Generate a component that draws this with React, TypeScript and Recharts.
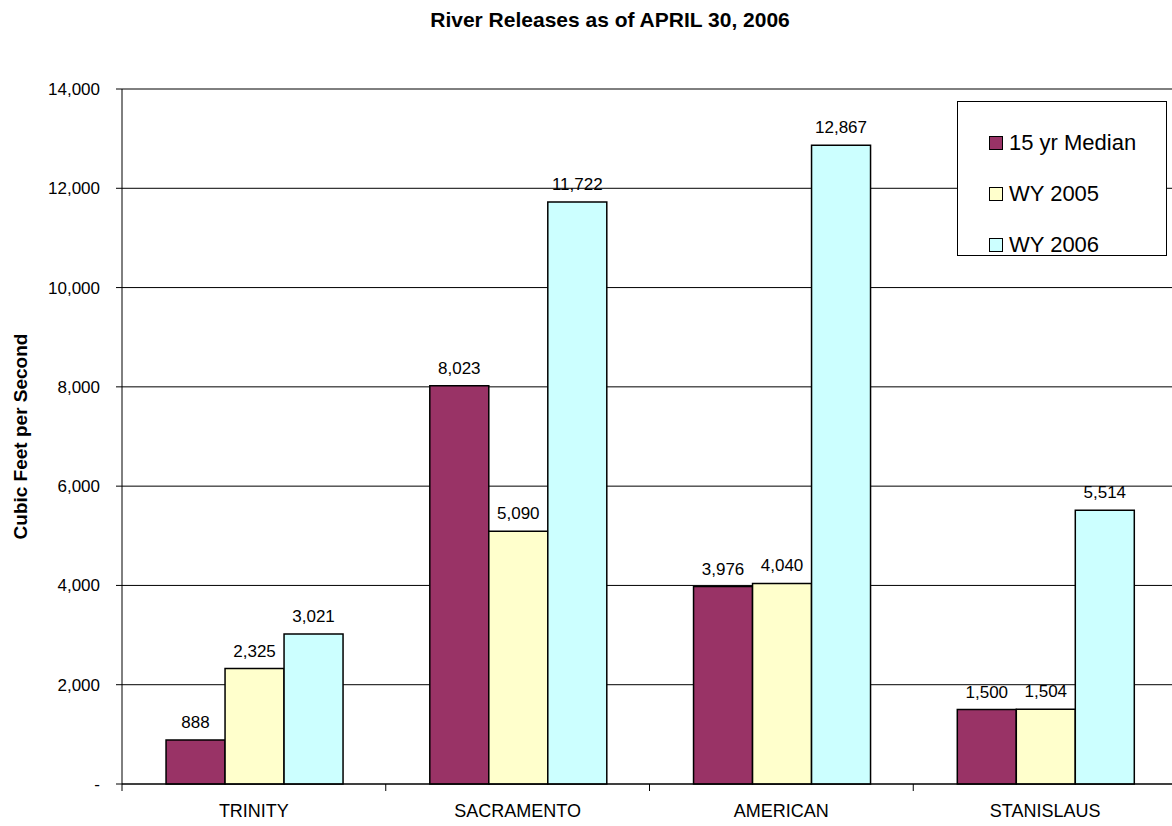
import { BarChart, Bar, XAxis, YAxis, CartesianGrid, Legend, LabelList } from 'recharts'

const rivers = ['TRINITY', 'SACRAMENTO', 'AMERICAN', 'STANISLAUS']
const median15yr = [888, 8023, 3976, 1500]
const wy2005 = [2325, 5090, 4040, 1504]
const wy2006 = [3021, 11722, 12867, 5514]
const yTicks = [0, 2000, 4000, 6000, 8000, 10000, 12000, 14000]

const SERIES = [
  { key: 'median', name: '15 yr Median', color: '#993366' },
  { key: 'wy2005', name: 'WY 2005', color: '#FFFFCC' },
  { key: 'wy2006', name: 'WY 2006', color: '#CCFFFF' },
]

const data = rivers.map((river, i) => ({
  river,
  median: median15yr[i],
  wy2005: wy2005[i],
  wy2006: wy2006[i],
}))

const FONT = '"Liberation Sans", Arial, Helvetica, sans-serif'
const CHART_W = 1190
const CHART_H = 826
const MARGIN = { top: 89, right: 13, left: 0, bottom: 0 }
const Y_AXIS_W = 122
const X_AXIS_H = 42
const PLOT_BOTTOM = CHART_H - MARGIN.bottom - X_AXIS_H
const BAND = (CHART_W - MARGIN.right - MARGIN.left - Y_AXIS_W) / rivers.length

const fmt = (v: number) => (v === 0 ? '-' : v.toLocaleString('en-US'))

function RiverTick(props: any) {
  const { x, payload, index } = props
  return (
    <g>
      <line x1={x - BAND / 2} x2={x - BAND / 2} y1={PLOT_BOTTOM} y2={PLOT_BOTTOM + 7} stroke="#000" />
      {index === rivers.length - 1 && (
        <line x1={x + BAND / 2} x2={x + BAND / 2} y1={PLOT_BOTTOM} y2={PLOT_BOTTOM + 7} stroke="#000" />
      )}
      <text x={x} y={PLOT_BOTTOM + 33} textAnchor="middle" fontSize={18} fontFamily={FONT} fill="#000">
        {payload.value}
      </text>
    </g>
  )
}

function LegendBox() {
  return (
    <div
      style={{
        boxSizing: 'border-box',
        width: 210,
        height: 155,
        border: '1px solid #000',
        background: '#fff',
        paddingTop: 15,
        paddingLeft: 31,
        fontFamily: FONT,
        fontSize: 22,
        color: '#000',
      }}
    >
      {SERIES.map((s) => (
        <div key={s.key} style={{ display: 'flex', alignItems: 'center', height: 51 }}>
          <span
            style={{
              display: 'inline-block',
              boxSizing: 'border-box',
              width: 14,
              height: 14,
              background: s.color,
              border: '1px solid #000',
              marginRight: 6,
            }}
          />
          <span>{s.name}</span>
        </div>
      ))}
    </div>
  )
}

function YTitle() {
  const cy = (MARGIN.top + PLOT_BOTTOM) / 2
  return (
    <text
      x={27}
      y={cy}
      transform={`rotate(-90, 27, ${cy})`}
      textAnchor="middle"
      fontSize={19}
      fontWeight="bold"
      fontFamily={FONT}
      fill="#000"
    >
      Cubic Feet per Second
    </text>
  )
}

export default function App() {
  return (
    <div
      style={{
        position: 'absolute',
        left: 0,
        top: 0,
        width: 1172,
        height: 826,
        overflow: 'hidden',
        background: '#fff',
        fontFamily: FONT,
      }}
    >
      <div
        style={{
          position: 'absolute',
          top: 8,
          left: 610,
          transform: 'translateX(-50%)',
          whiteSpace: 'nowrap',
          fontSize: 21,
          fontWeight: 'bold',
          color: '#000',
          zIndex: 2,
        }}
      >
        River Releases as of APRIL 30, 2006
      </div>
      <BarChart
        width={CHART_W}
        height={CHART_H}
        data={data}
        margin={MARGIN}
        barCategoryGap="16.7%"
        barGap={0}
      >
        <CartesianGrid horizontal vertical={false} stroke="#000" strokeWidth={1} />
        <XAxis
          dataKey="river"
          height={X_AXIS_H}
          axisLine={{ stroke: '#000' }}
          tickLine={false}
          tick={<RiverTick />}
          interval={0}
        />
        <YAxis
          width={Y_AXIS_W}
          domain={[0, 14000]}
          ticks={yTicks}
          interval={0}
          tickFormatter={fmt}
          axisLine={{ stroke: '#000' }}
          tickLine={{ stroke: '#000' }}
          tickSize={6}
          tickMargin={16}
          tick={{ fontSize: 17, fill: '#000', fontFamily: FONT }}
          label={{ content: () => <YTitle /> }}
        />
        <Legend
          layout="horizontal"
          verticalAlign="middle"
          align="center"
          content={() => <LegendBox />}
          wrapperStyle={{ top: 101, left: 957, width: 210, height: 155 }}
        />
        {SERIES.map((s) => (
          <Bar
            key={s.key}
            dataKey={s.key}
            name={s.name}
            fill={s.color}
            stroke="#000"
            strokeWidth={1.5}
            isAnimationActive={false}
          >
            <LabelList
              dataKey={s.key}
              position="top"
              offset={12}
              formatter={(v: any) => fmt(Number(v))}
              style={{ fontSize: 17, fill: '#000', fontFamily: FONT }}
            />
          </Bar>
        ))}
      </BarChart>
    </div>
  )
}
